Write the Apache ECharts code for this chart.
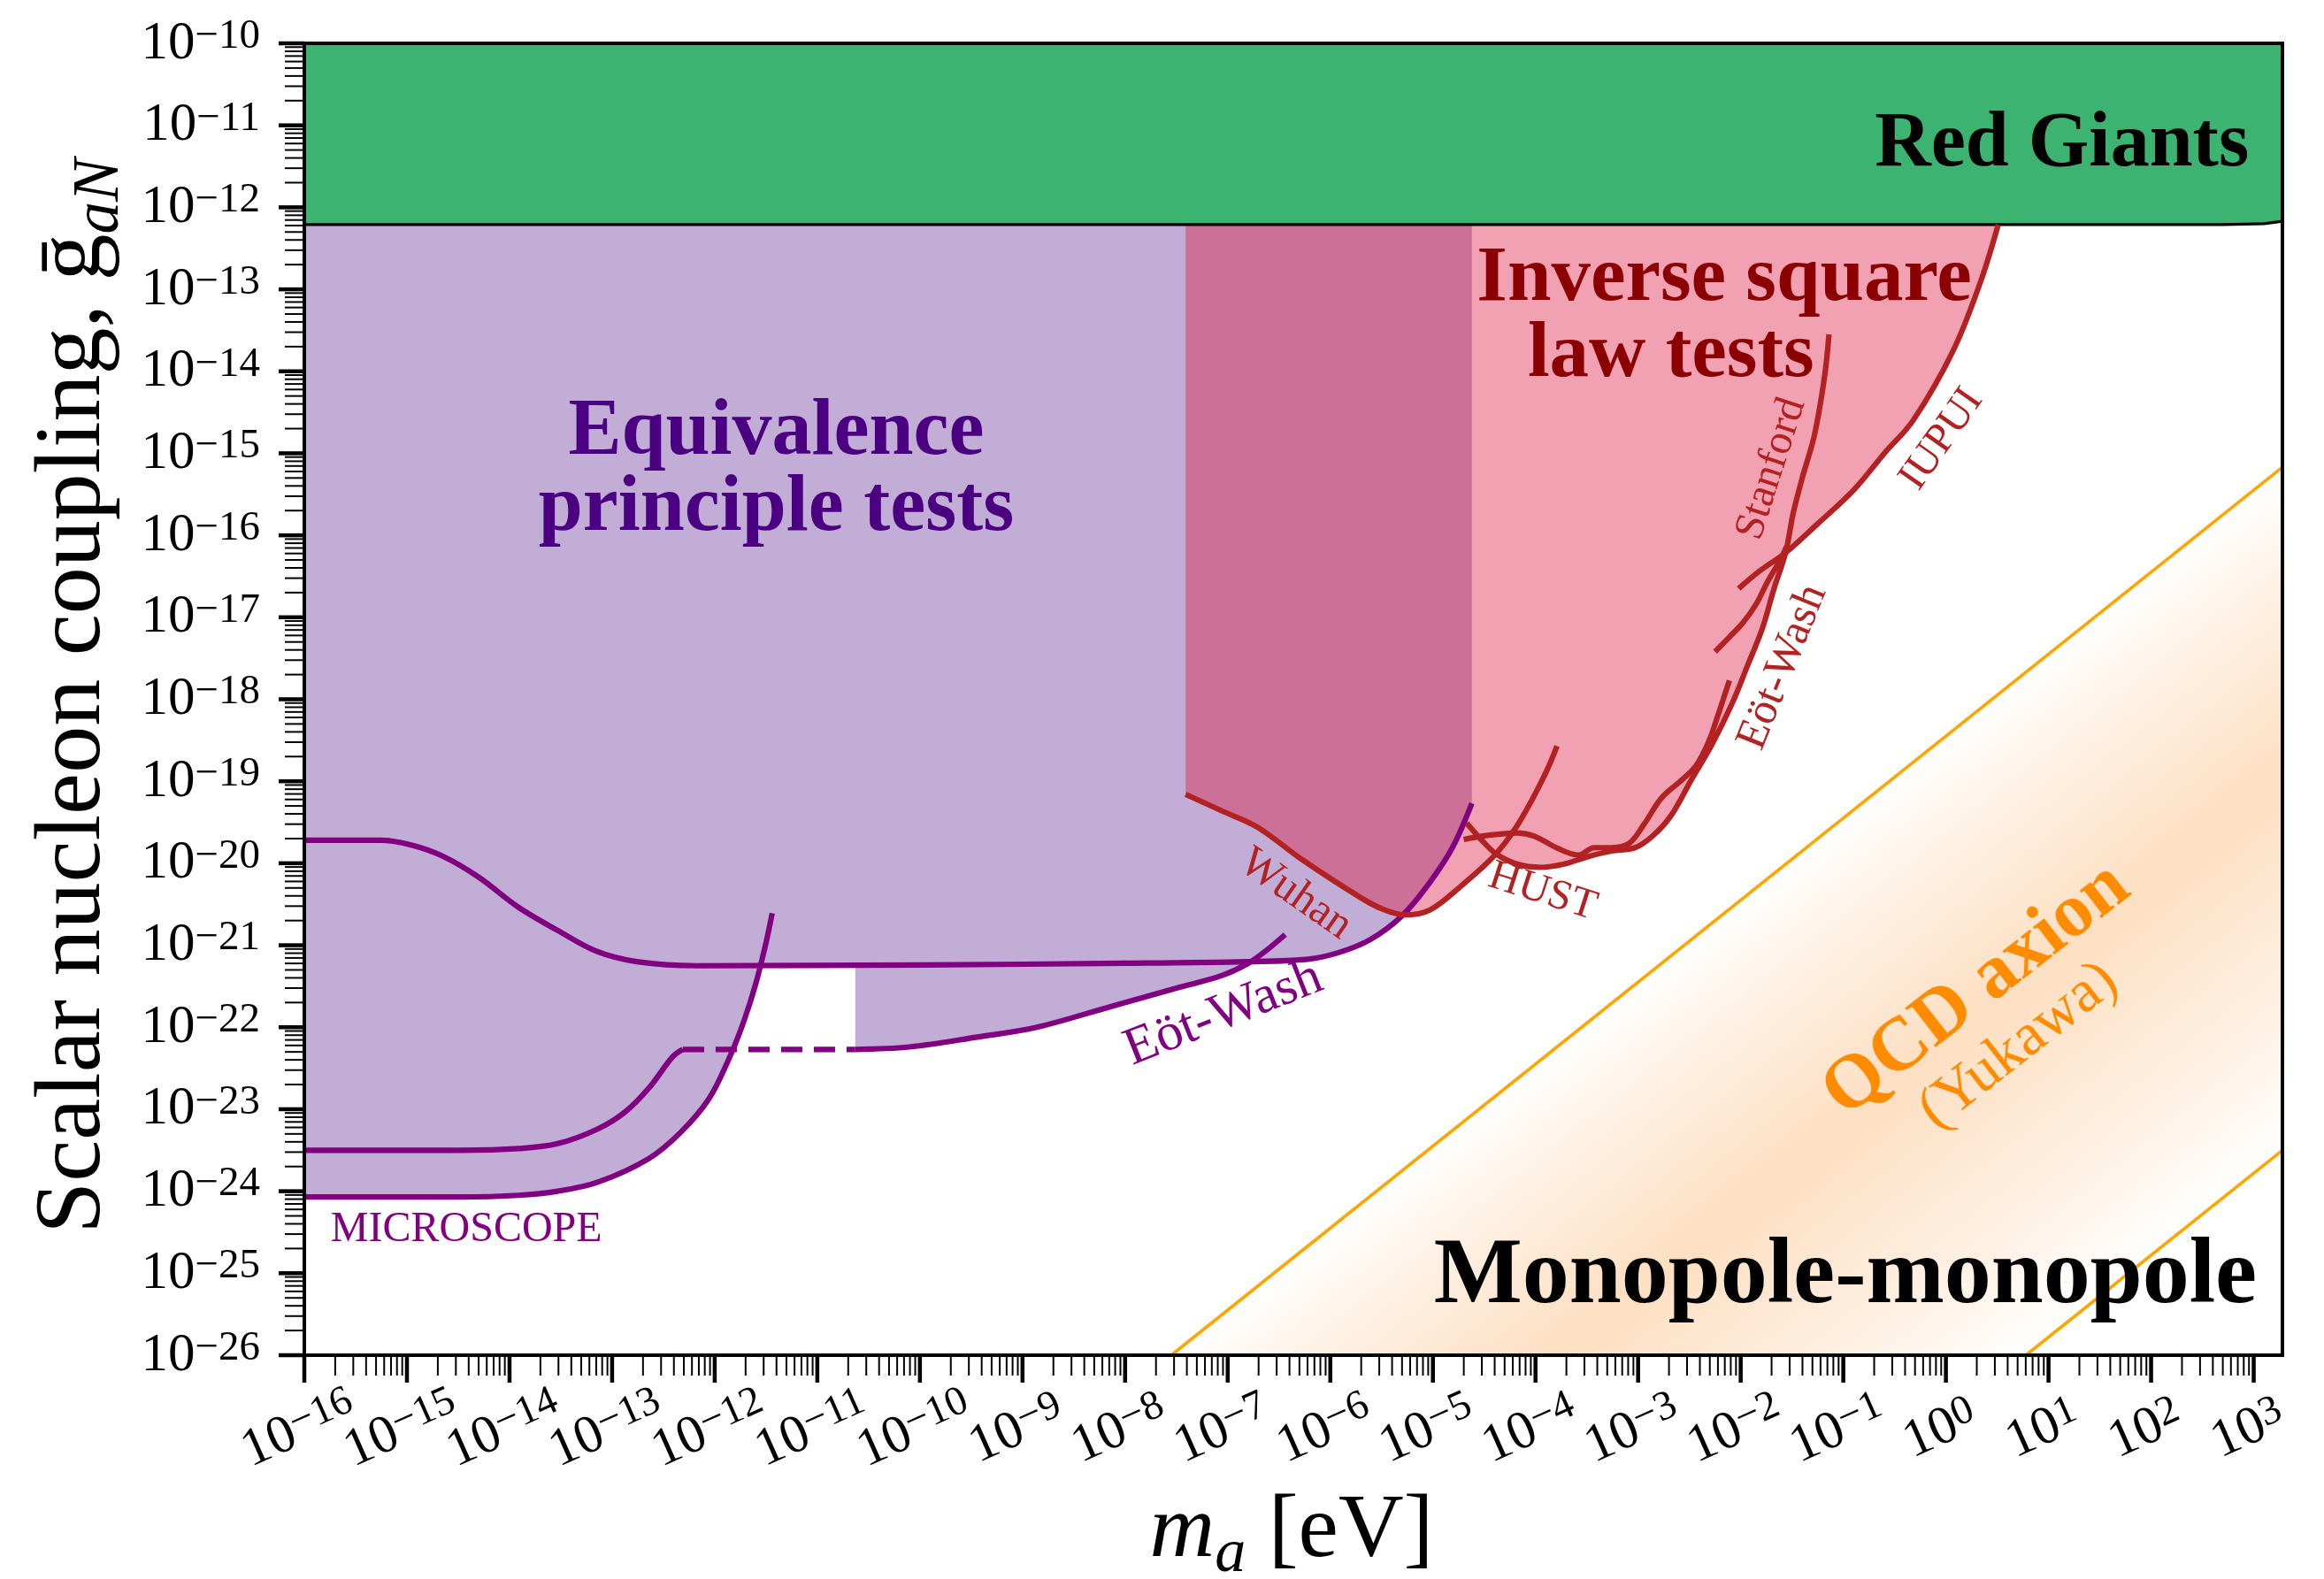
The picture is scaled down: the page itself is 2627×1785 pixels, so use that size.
<!DOCTYPE html>
<html>
<head>
<meta charset="utf-8">
<script src="https://cdn.jsdelivr.net/npm/echarts@6/dist/echarts.min.js"></script>
<style>html,body{margin:0;padding:0;background:#fff}#c{width:2627px;height:1785px}</style>
</head>
<body>
<div id="c"></div>
<script>
// All coordinates are log10 values: x = log10(m_a / eV), y = log10(g_aN)
const X_MIN = -16, X_MAX = 3.28, Y_MIN = -26, Y_MAX = -10;
const xTickExps = [-16,-15,-14,-13,-12,-11,-10,-9,-8,-7,-6,-5,-4,-3,-2,-1,0,1,2,3];
const yTickExps = [-26,-25,-24,-23,-22,-21,-20,-19,-18,-17,-16,-15,-14,-13,-12,-11,-10];

const redGiantsEdge = [[-16,-12.21],[2.7,-12.21],[3.1,-12.20],[3.28,-12.17]];

const microscopeLower = [[-16,-24.07],[-14.49,-24.07],[-13.91,-24.05],[-13.53,-24.00],[-13.14,-23.89],[-12.64,-23.60],[-12.33,-23.28],[-12.06,-22.88],[-11.87,-22.41],[-11.72,-21.94],[-11.60,-21.47],[-11.50,-20.97],[-11.44,-20.61]];
const microscopeUpper = [[-16,-23.50],[-14.49,-23.50],[-13.91,-23.48],[-13.53,-23.42],[-13.14,-23.24],[-12.87,-23.03],[-12.64,-22.74],[-12.41,-22.36],[-12.31,-22.27]];
const eotWashDashed = [[-12.31,-22.27],[-10.63,-22.27]];
const eotWashPurple = [[-10.63,-22.27],[-10.10,-22.24],[-9.44,-22.12],[-8.86,-22.00],[-8.12,-21.74],[-7.46,-21.51],[-7.06,-21.37],[-6.80,-21.22],[-6.62,-21.06],[-6.44,-20.87]];
const eqPrincipleLine = [[-16,-19.72],[-15.26,-19.72],[-14.95,-19.78],[-14.64,-19.92],[-14.30,-20.17],[-13.91,-20.54],[-13.53,-20.82],[-13.14,-21.08],[-12.76,-21.20],[-12.18,-21.25],[-9.99,-21.24],[-8.0,-21.22],[-6.80,-21.20],[-6.22,-21.17],[-5.92,-21.09],[-5.61,-20.93],[-5.30,-20.64],[-5.04,-20.25],[-4.81,-19.81],[-4.62,-19.27]];

const wuhan = [[-7.41,-19.16],[-7.06,-19.36],[-6.71,-19.56],[-6.27,-19.96],[-5.69,-20.43],[-5.47,-20.57],[-5.28,-20.63],[-5.03,-20.57],[-4.70,-20.25],[-4.41,-19.92],[-4.21,-19.60],[-4.04,-19.24],[-3.89,-18.87],[-3.79,-18.57]];
const hust = [[-4.70,-19.71],[-4.47,-19.66],[-4.18,-19.63],[-4.01,-19.67],[-3.78,-19.82],[-3.58,-19.90],[-3.43,-19.81],[-3.26,-19.81],[-3.09,-19.76],[-2.94,-19.52],[-2.77,-19.20],[-2.57,-18.98],[-2.43,-18.80],[-2.31,-18.51],[-2.21,-18.15],[-2.11,-17.77]];
const eotWashRed = [[-4.67,-19.51],[-4.53,-19.71],[-4.38,-19.89],[-4.18,-20.01],[-3.95,-20.05],[-3.72,-20.01],[-3.49,-19.92],[-3.26,-19.85],[-3.03,-19.81],[-2.86,-19.67],[-2.68,-19.42],[-2.48,-18.98],[-2.28,-18.55],[-2.08,-18.04],[-1.94,-17.61],[-1.79,-17.14],[-1.68,-16.67],[-1.56,-16.20],[-1.49,-15.74],[-1.40,-15.30],[-1.28,-14.77],[-1.18,-14.04],[-1.14,-13.55]];
const stanford = [[-2.25,-17.42],[-2.11,-17.24],[-1.98,-17.07],[-1.85,-16.84],[-1.74,-16.57],[-1.62,-16.31],[-1.55,-16.13]];
const iupui = [[-2.02,-16.65],[-1.82,-16.44],[-1.56,-16.21],[-1.25,-15.86],[-0.90,-15.45],[-0.60,-15.00],[-0.32,-14.60],[0.07,-13.75],[0.34,-12.90],[0.51,-12.21]];

const qcdUpper = [[-7.55,-26],[3.28,-15.17]];
const qcdLower = [[0.78,-26],[3.28,-23.50]];

// ---------- helpers ----------
const FONT = '"Liberation Serif", "DejaVu Serif", serif';
const seg = (arr, a, b) => arr.filter(p => p[0] >= a && p[0] <= b);
const rev = arr => arr.slice().reverse();
const rgY = redGiantsEdge[0][1];

const greenPoly = [[X_MIN, Y_MAX],[X_MAX, Y_MAX], ...rev(redGiantsEdge)];
const purplePoly = [
  [X_MIN, rgY], [eqPrincipleLine[eqPrincipleLine.length-1][0], rgY],
  ...rev(seg(eqPrincipleLine, -6.80, -4.6)),
  ...rev(seg(eotWashPurple, -10.64, -6.81)),
  [eotWashPurple[0][0], -21.24], [-11.55, -21.24],
  ...rev(seg(microscopeLower, -16, -11.56))
];
const pinkPoly = [
  [wuhan[0][0], rgY], [iupui[iupui.length-1][0], rgY],
  ...rev(seg(iupui, -1.57, 1)),
  ...rev(seg(eotWashRed, -4.39, -1.58)),
  ...rev(seg(wuhan, -8, -4.41))
];
const qcdPoly = [qcdUpper[0], qcdUpper[1], qcdLower[1], qcdLower[0]];

function polySeries(name, pts, fill, z) {
  return {
    type: 'custom', name, coordinateSystem: 'cartesian2d', z, silent: true, clip: true,
    data: [pts[0]],
    renderItem: (params, api) => ({
      type: 'polygon',
      shape: { points: pts.map(p => api.coord(p)), smooth: 0 },
      style: { fill: typeof fill === 'function' ? fill(api) : fill }
    })
  };
}
function lineSeries(name, pts, color, width, extra) {
  return Object.assign({
    type: 'line', name, data: pts, showSymbol: false, symbol: 'none', silent: true,
    smooth: 0.35, z: 5,
    lineStyle: { color, width, cap: 'butt', join: 'round' }
  }, extra || {});
}

function qcdFill(api) {
  const a = api.coord(qcdUpper[0]), b = api.coord(qcdUpper[1]), c = api.coord(qcdLower[0]);
  const dx = b[0]-a[0], dy = b[1]-a[1], L = Math.hypot(dx, dy);
  const nx = -dy/L, ny = dx/L;
  const t = (c[0]-a[0])*nx + (c[1]-a[1])*ny;
  return { type: 'linear', x: a[0], y: a[1], x2: a[0]+t*nx, y2: a[1]+t*ny, global: true,
    colorStops: [
      {offset: 0, color: '#ffffff'}, {offset: 0.18, color: '#fef0e2'},
      {offset: 0.45, color: '#fddfc2'}, {offset: 0.78, color: '#fef0e2'},
      {offset: 1, color: '#ffffff'}] };
}

const supTxt = e => (e < 0 ? '\u2212' : '') + Math.abs(e);
const tickRich = {
  b: { fontFamily: FONT, fontSize: 61, lineHeight: 62, verticalAlign: 'bottom', color: '#000', fill: '#000' },
  s: { fontFamily: FONT, fontSize: 47, lineHeight: 46, verticalAlign: 'top', padding: [0, 0, 26, 0], color: '#000', fill: '#000' }
};
const tickText = e => '{b|10}{s|' + supTxt(e) + '}';

const frameSeries = {
  type: 'custom', name: 'frame', coordinateSystem: 'cartesian2d', z: 30, silent: true, clip: false,
  data: [[X_MIN, Y_MIN]],
  renderItem: (params, api) => {
    const children = [];
    const bl = api.coord([X_MIN, Y_MIN]), tr = api.coord([X_MAX, Y_MAX]);
    for (let n = xTickExps[0]; n <= xTickExps[xTickExps.length-1]; n++) {
      for (let k = 1; k <= 9; k++) {
        const v = n + Math.log10(k);
        if (v > X_MAX) continue;
        const px = api.coord([v, Y_MIN])[0];
        const major = k === 1;
        children.push({ type: 'line', shape: { x1: px, y1: bl[1], x2: px, y2: bl[1] + (major ? 31 : 23) },
          style: { stroke: '#000', lineWidth: major ? 4.5 : 2 } });
      }
    }
    for (let n = yTickExps[0]; n <= yTickExps[yTickExps.length-1]; n++) {
      for (let k = 1; k <= 9; k++) {
        const v = n + Math.log10(k);
        if (v > Y_MAX) continue;
        const py = api.coord([X_MIN, v])[1];
        const major = k === 1;
        children.push({ type: 'line', shape: { x1: bl[0] - (major ? 29 : 22), y1: py, x2: bl[0], y2: py },
          style: { stroke: '#000', lineWidth: major ? 4.5 : 2 } });
      }
    }
    // x tick labels (rotated, centred under each decade tick)
    xTickExps.forEach(e => {
      const px = api.coord([e, Y_MIN])[0];
      children.push({ type: 'text', x: px - 6, y: bl[1] + 84, rotation: 24 * Math.PI / 180,
        style: { text: tickText(e), rich: tickRich, align: 'center', verticalAlign: 'middle', fill: '#000' } });
    });
    children.push({ type: 'rect', shape: { x: bl[0], y: tr[1], width: tr[0]-bl[0], height: bl[1]-tr[1] },
      style: { fill: null, stroke: '#000', lineWidth: 4 } });
    return { type: 'group', children };
  }
};

const LW = 6.2;
const chart = echarts.init(document.getElementById('c'), null, { renderer: 'canvas' });
chart.setOption({
  animation: false,
  backgroundColor: '#fff',
  grid: { left: 344, right: 47, top: 49, bottom: 253, containLabel: false },
  xAxis: {
    type: 'value', min: X_MIN, max: X_MAX, interval: 1, z: 10,
    axisLine: { show: false }, axisTick: { show: false }, splitLine: { show: false },
    axisLabel: { show: false }
  },
  yAxis: {
    type: 'value', min: Y_MIN, max: Y_MAX, interval: 1, z: 10,
    axisLine: { show: false }, axisTick: { show: false }, splitLine: { show: false },
    axisLabel: {
      formatter: v => { const r = Math.round(v); return (Math.abs(v - r) < 1e-6 && yTickExps.includes(r)) ? tickText(r) : ''; },
      rich: tickRich, margin: 50, showMinLabel: true, showMaxLabel: true }
  },
  series: [
    polySeries('Red Giants', greenPoly, '#3cb371', 1),
    polySeries('Equivalence principle tests', purplePoly, 'rgb(194,173,214)', 1),
    polySeries('Inverse square law tests', pinkPoly, 'rgba(220,20,60,0.4)', 2),
    polySeries('QCD axion', qcdPoly, qcdFill, 1),
    lineSeries('Red Giants edge', redGiantsEdge, '#000', 3.2, { smooth: false }),
    lineSeries('QCD upper', qcdUpper, '#ffa500', 3.6, { smooth: false }),
    lineSeries('QCD lower', qcdLower, '#ffa500', 3.6, { smooth: false }),
    lineSeries('MICROSCOPE', microscopeLower, '#800080', LW),
    lineSeries('MICROSCOPE 2', microscopeUpper, '#800080', LW),
    lineSeries('Eöt-Wash dashed', eotWashDashed, '#800080', LW, { smooth: false, lineStyle: { color: '#800080', width: LW, type: [24, 13] } }),
    lineSeries('Eöt-Wash', eotWashPurple, '#800080', LW),
    lineSeries('EP line', eqPrincipleLine, '#800080', LW),
    lineSeries('Wuhan', wuhan, '#b22222', LW),
    lineSeries('HUST', hust, '#b22222', LW),
    lineSeries('Eöt-Wash ISL', eotWashRed, '#b22222', LW),
    lineSeries('Stanford', stanford, '#b22222', LW),
    lineSeries('IUPUI', iupui, '#b22222', LW),
    frameSeries
  ]
});

// ---------- annotations (positioned in data coordinates) ----------
const annotations = [
  { text: 'Red Giants', at: [1.13, -11.24], size: 88, bold: true, color: '#000', rot: 0 },
  { text: 'Equivalence', at: [-11.40, -14.75], size: 90, bold: true, color: '#4b0082', rot: 0 },
  { text: 'principle tests', at: [-11.40, -15.68], size: 90, bold: true, color: '#4b0082', rot: 0 },
  { text: 'Inverse square', at: [-2.16, -12.88], size: 89, bold: true, color: '#8b0000', rot: 0 },
  { text: 'law tests', at: [-2.68, -13.81], size: 89, bold: true, color: '#8b0000', rot: 0 },
  { text: 'Monopole-monopole', at: [-0.98, -25.06], size: 106, bold: true, color: '#000', rot: 0 },
  { text: 'QCD axion', at: [0.30, -21.55], size: 86, bold: true, color: '#ff8c00', rot: 38 },
  { text: '(Yukawa)', at: [0.71, -22.23], size: 68, bold: false, color: '#ff8c00', rot: 38 },
  { text: 'MICROSCOPE', at: [-14.42, -24.47], size: 48, bold: false, color: '#800080', rot: 0 },
  { text: 'Eöt-Wash', at: [-7.04, -21.84], size: 60, bold: false, color: '#800080', rot: 21.6 },
  { text: 'Wuhan', at: [-6.34, -20.38], size: 50, bold: false, color: '#b22222', rot: -35 },
  { text: 'HUST', at: [-3.93, -20.35], size: 48, bold: false, color: '#b22222', rot: -18 },
  { text: 'Eöt-Wash', at: [-1.59, -17.61], size: 50, bold: false, color: '#b22222', rot: 68 },
  { text: 'Stanford', at: [-1.70, -15.19], size: 48, bold: false, color: '#b22222', rot: 72 },
  { text: 'IUPUI', at: [-0.04, -14.83], size: 48, bold: false, color: '#b22222', rot: 55 }
];

const graphics = annotations.map(a => {
  const p = chart.convertToPixel({ gridIndex: 0 }, a.at);
  return { type: 'text', x: p[0], y: p[1], rotation: a.rot * Math.PI / 180, z: 20, silent: true,
    style: { text: a.text, fontFamily: FONT, fontSize: a.size, fontWeight: a.bold ? 'bold' : 'normal',
      fill: a.color, align: 'center', verticalAlign: 'middle' } };
});
graphics.push({
  type: 'text', x: 86, y: 787, rotation: Math.PI / 2, z: 20, silent: true,
  style: { text: '{r|Scalar nucleon coupling, }{r|\u1E21}{i|aN}', align: 'center', verticalAlign: 'middle',
    rich: {
      r: { fontFamily: FONT, fontSize: 106, lineHeight: 110, verticalAlign: 'top', fill: '#000' },
      i: { fontFamily: FONT, fontSize: 73, fontStyle: 'italic', lineHeight: 70, padding: [46, 0, 0, 0], verticalAlign: 'top', fill: '#000' }
    } }
});
graphics.push({
  type: 'text', x: 1460, y: 1736, z: 20, silent: true,
  style: { text: '{i|m}{s|a}{r| [eV]}', align: 'center', verticalAlign: 'middle',
    rich: {
      i: { fontFamily: FONT, fontSize: 102, fontStyle: 'italic', lineHeight: 110, verticalAlign: 'top', fill: '#000' },
      r: { fontFamily: FONT, fontSize: 102, lineHeight: 110, verticalAlign: 'top', fill: '#000' },
      s: { fontFamily: FONT, fontSize: 70, fontStyle: 'italic', lineHeight: 70, padding: [42, 0, 0, 0], verticalAlign: 'top', fill: '#000' }
    } }
});
chart.setOption({ graphic: graphics });
</script>
</body>
</html>
